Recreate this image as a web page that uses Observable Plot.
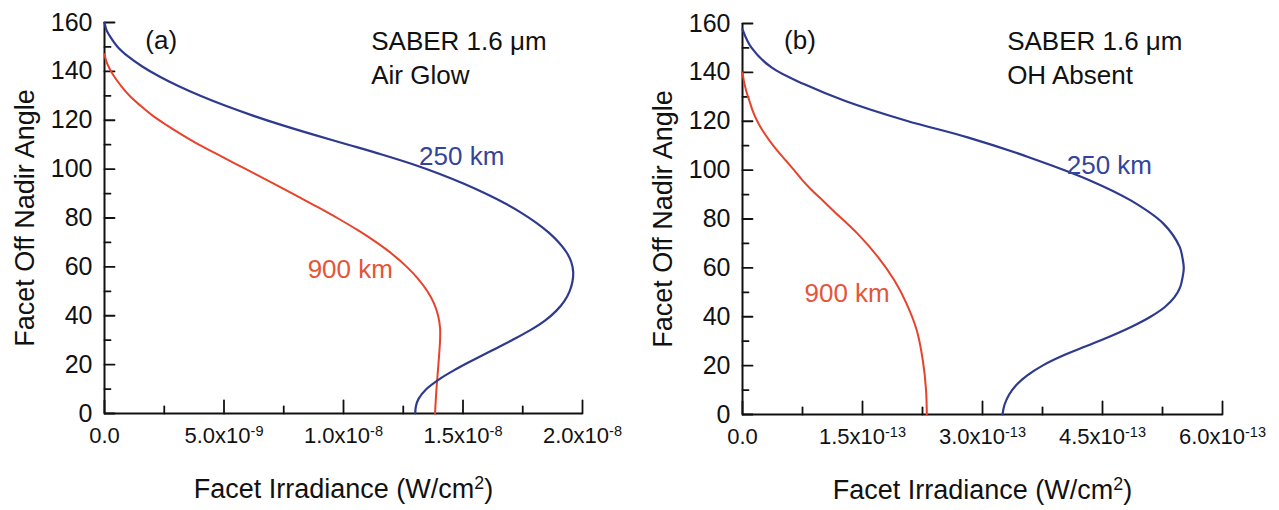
<!DOCTYPE html>
<html>
<head>
<meta charset="utf-8">
<script src="https://cdn.jsdelivr.net/npm/d3@7"></script>
<script src="https://cdn.jsdelivr.net/npm/@observablehq/plot@0.6"></script>
<style>
  html, body { margin: 0; padding: 0; background: #fff; }
  #wrap { display: flex; width: 1279px; height: 510px; }
</style>
</head>
<body>
<div id="wrap"></div>
<script>
// ---------- data (angle in degrees, irradiance in W/cm^2) ----------
const seriesNames = ["250 km", "900 km"];

// Panel (a): SABER 1.6 µm, Air Glow
const blueA_angle = [160, 157, 154, 150, 146, 142, 138, 134, 130, 126, 122, 118, 114, 110, 106, 102, 98, 94, 90, 86, 82, 78, 74, 70, 66, 62, 58, 54, 50, 46, 42, 38, 34, 30, 26, 22, 18, 14, 10, 6, 3, 0];
const blueA_irr   = [0, 0.008e-8, 0.025e-8, 0.055e-8, 0.1e-8, 0.158e-8, 0.228e-8, 0.309e-8, 0.401e-8, 0.504e-8, 0.618e-8, 0.743e-8, 0.878e-8, 1.02e-8, 1.16e-8, 1.29e-8, 1.403e-8, 1.504e-8, 1.594e-8, 1.675e-8, 1.746e-8, 1.807e-8, 1.859e-8, 1.901e-8, 1.933e-8, 1.953e-8, 1.961e-8, 1.958e-8, 1.946e-8, 1.924e-8, 1.89e-8, 1.843e-8, 1.78e-8, 1.705e-8, 1.625e-8, 1.545e-8, 1.468e-8, 1.4e-8, 1.347e-8, 1.314e-8, 1.303e-8, 1.30e-8];
const redA_angle  = [147, 144, 141, 138, 134, 130, 126, 122, 118, 114, 110, 105, 100, 95, 90, 85, 80, 75, 70, 65, 60, 55, 50, 45, 40, 35, 30, 20, 10, 0];
const redA_irr    = [0, 0.008e-8, 0.022e-8, 0.04e-8, 0.07e-8, 0.105e-8, 0.15e-8, 0.2e-8, 0.26e-8, 0.325e-8, 0.395e-8, 0.493e-8, 0.592e-8, 0.69e-8, 0.787e-8, 0.882e-8, 0.974e-8, 1.06e-8, 1.138e-8, 1.207e-8, 1.265e-8, 1.313e-8, 1.351e-8, 1.379e-8, 1.396e-8, 1.404e-8, 1.404e-8, 1.397e-8, 1.389e-8, 1.383e-8];

// Panel (b): SABER 1.6 µm, OH Absent
const blueB_angle = [157.6, 150.1, 141.9, 135.1, 128.3, 120.2, 113.4, 105.3, 95.8, 87.6, 78.1, 68.6, 64, 60, 56, 52, 48, 44, 40, 36, 32, 28, 24, 20, 16, 12, 8, 4, 0];
const blueB_irr   = [0, 0.112e-13, 0.367e-13, 0.775e-13, 1.285e-13, 2.05e-13, 2.814e-13, 3.578e-13, 4.343e-13, 4.853e-13, 5.261e-13, 5.465e-13, 5.5e-13, 5.516e-13, 5.5e-13, 5.47e-13, 5.4e-13, 5.28e-13, 5.1e-13, 4.87e-13, 4.6e-13, 4.3e-13, 4.0e-13, 3.75e-13, 3.56e-13, 3.42e-13, 3.33e-13, 3.275e-13, 3.25e-13];
const redB_angle  = [139.9, 136, 132, 128.3, 124, 120, 116, 112, 108, 104, 100, 96, 92, 88, 83.5, 74.0, 64.5, 55.0, 45.5, 34.6, 22.4, 10.2, 0];
const redB_irr    = [0, 0.02e-13, 0.05e-13, 0.087e-13, 0.13e-13, 0.185e-13, 0.255e-13, 0.34e-13, 0.435e-13, 0.54e-13, 0.645e-13, 0.745e-13, 0.86e-13, 0.99e-13, 1.132e-13, 1.438e-13, 1.692e-13, 1.896e-13, 2.049e-13, 2.177e-13, 2.253e-13, 2.294e-13, 2.304e-13];

// ticks
const yTicks       = [0, 20, 40, 60, 80, 100, 120, 140, 160];
const yMinorTicks  = [10, 30, 50, 70, 90, 110, 130, 150];
const xTicksA      = [0, 5e-9, 1e-8, 1.5e-8, 2e-8];
const xMinorTicksA = [2.5e-9, 7.5e-9, 1.25e-8, 1.75e-8];
const xTicksB      = [0, 1.5e-13, 3e-13, 4.5e-13, 6e-13];
const xMinorTicksB = [0.75e-13, 2.25e-13, 3.75e-13, 5.25e-13];

// texts
const panelTags   = ["(a)", "(b)"];
const headerLines = [["SABER 1.6 \u03bcm", "Air Glow"], ["SABER 1.6 \u03bcm", "OH Absent"]];
const xTitle = "Facet Irradiance (W/cm^2)";
const yTitle = "Facet Off Nadir Angle";

// annotation anchors (data coordinates)
const annotA = [
  {text: panelTags[0], x: 0.171e-8, y: 152.4, c: "#111"},
  {text: headerLines[0][0], x: 1.116e-8, y: 152.3, c: "#111"},
  {text: headerLines[0][1], x: 1.116e-8, y: 138.4, c: "#111"},
  {text: seriesNames[0], x: 1.316e-8, y: 104.9, c: "#34449a"},
  {text: seriesNames[1], x: 0.85e-8, y: 59, c: "#e4553a"}
];
const annotB = [
  {text: panelTags[1], x: 0.52e-13, y: 152.8, c: "#111"},
  {text: headerLines[1][0], x: 3.308e-13, y: 152.5, c: "#111"},
  {text: headerLines[1][1], x: 3.308e-13, y: 138.5, c: "#111"},
  {text: seriesNames[0], x: 4.053e-13, y: 101.9, c: "#34449a"},
  {text: seriesNames[1], x: 0.775e-13, y: 49.6, c: "#e4553a"}
];

const BLUE = "#2d3a8e";
const RED = "#e8432a";
const INK = "#111";

function zipSeries(angles, irr) { return angles.map((a, i) => ({a, v: irr[i]})); }

function fmt(v) {
  if (v === 0) return "0.0";
  const e = Math.floor(Math.log10(v) + 1e-9);
  const m = Math.round(v / Math.pow(10, e) * 10) / 10;
  return m.toFixed(1) + "x10^" + e;
}

const tickShape = {draw(ctx, l) { ctx.moveTo(0, 0); ctx.lineTo(0, -l); }};

function panel({width, marginLeft, marginRight, marginTop, marginBottom, xMax, xTicks, xMinor, blue, red, annot}) {
  const svg = Plot.plot({
    width, height: 510,
    marginLeft, marginRight, marginTop, marginBottom,
    style: {fontFamily: "'Liberation Sans', Arial, sans-serif", fontSize: "22px", color: INK, background: "#fff", overflow: "visible"},
    x: {domain: [0, xMax]},
    y: {domain: [0, 160]},
    marks: [
      Plot.axisY({ticks: yTicks, tickSize: 0, tickPadding: 12, fontSize: 25, label: null, tickFormat: d => String(d)}),
      Plot.axisX({ticks: xTicks, tickSize: 0, tickPadding: 14, fontSize: 22, label: null, tickFormat: fmt}),
      Plot.ruleX([0], {stroke: INK, strokeWidth: 2}),
      Plot.ruleY([0], {stroke: INK, strokeWidth: 2}),
      Plot.vector(xTicks, {x: d => d, y: 0, length: 13, rotate: 0, anchor: "start", shape: tickShape, stroke: INK, strokeWidth: 1.8, fill: "none"}),
      Plot.vector(xMinor, {x: d => d, y: 0, length: 7, rotate: 0, anchor: "start", shape: tickShape, stroke: INK, strokeWidth: 1.8, fill: "none"}),
      Plot.vector(yTicks, {x: 0, y: d => d, length: 10, rotate: 90, anchor: "start", shape: tickShape, stroke: INK, strokeWidth: 1.8, fill: "none"}),
      Plot.vector(yMinorTicks, {x: 0, y: d => d, length: 6, rotate: 90, anchor: "start", shape: tickShape, stroke: INK, strokeWidth: 1.8, fill: "none"}),
      Plot.line(red, {x: "v", y: "a", stroke: RED, strokeWidth: 2, curve: "catmull-rom"}),
      Plot.line(blue, {x: "v", y: "a", stroke: BLUE, strokeWidth: 2.2, curve: "catmull-rom"}),
      Plot.text(annot, {x: "x", y: "y", text: "text", fill: "c", textAnchor: "start", lineAnchor: "middle", fontSize: 26}),
      Plot.text([xTitle], {frameAnchor: "bottom", dy: 76, lineAnchor: "middle", textAnchor: "middle", fontSize: 27, fill: INK}),
      Plot.text([yTitle], {frameAnchor: "left", dx: -79, rotate: -90, lineAnchor: "middle", textAnchor: "middle", fontSize: 27, fill: INK})
    ]
  });
  // superscripts for "x10^e" and "cm^2"
  svg.querySelectorAll("text").forEach(t => {
    const s = t.textContent;
    if (!s.includes("^") || t.querySelector("tspan")) return;
    const m = s.match(/^(.*?)\^(-?\d+)(.*)$/);
    if (!m) return;
    t.textContent = "";
    const ns = "http://www.w3.org/2000/svg";
    const a = document.createElementNS(ns, "tspan"); a.textContent = m[1]; t.appendChild(a);
    const b = document.createElementNS(ns, "tspan"); b.textContent = m[2];
    b.setAttribute("dy", "-0.5em"); b.setAttribute("font-size", "0.66em"); t.appendChild(b);
    if (m[3]) {
      const c = document.createElementNS(ns, "tspan"); c.textContent = m[3];
      c.setAttribute("dy", "0.33em"); t.appendChild(c);
    }
  });
  return svg;
}

const wrap = document.getElementById("wrap");
wrap.appendChild(panel({
  width: 640, marginLeft: 104, marginRight: 58, marginTop: 22, marginBottom: 97,
  xMax: 2e-8, xTicks: xTicksA, xMinor: xMinorTicksA,
  blue: zipSeries(blueA_angle, blueA_irr), red: zipSeries(redA_angle, redA_irr), annot: annotA
}));
wrap.appendChild(panel({
  width: 639, marginLeft: 102, marginRight: 57, marginTop: 23, marginBottom: 96,
  xMax: 6e-13, xTicks: xTicksB, xMinor: xMinorTicksB,
  blue: zipSeries(blueB_angle, blueB_irr), red: zipSeries(redB_angle, redB_irr), annot: annotB
}));
</script>
</body>
</html>
